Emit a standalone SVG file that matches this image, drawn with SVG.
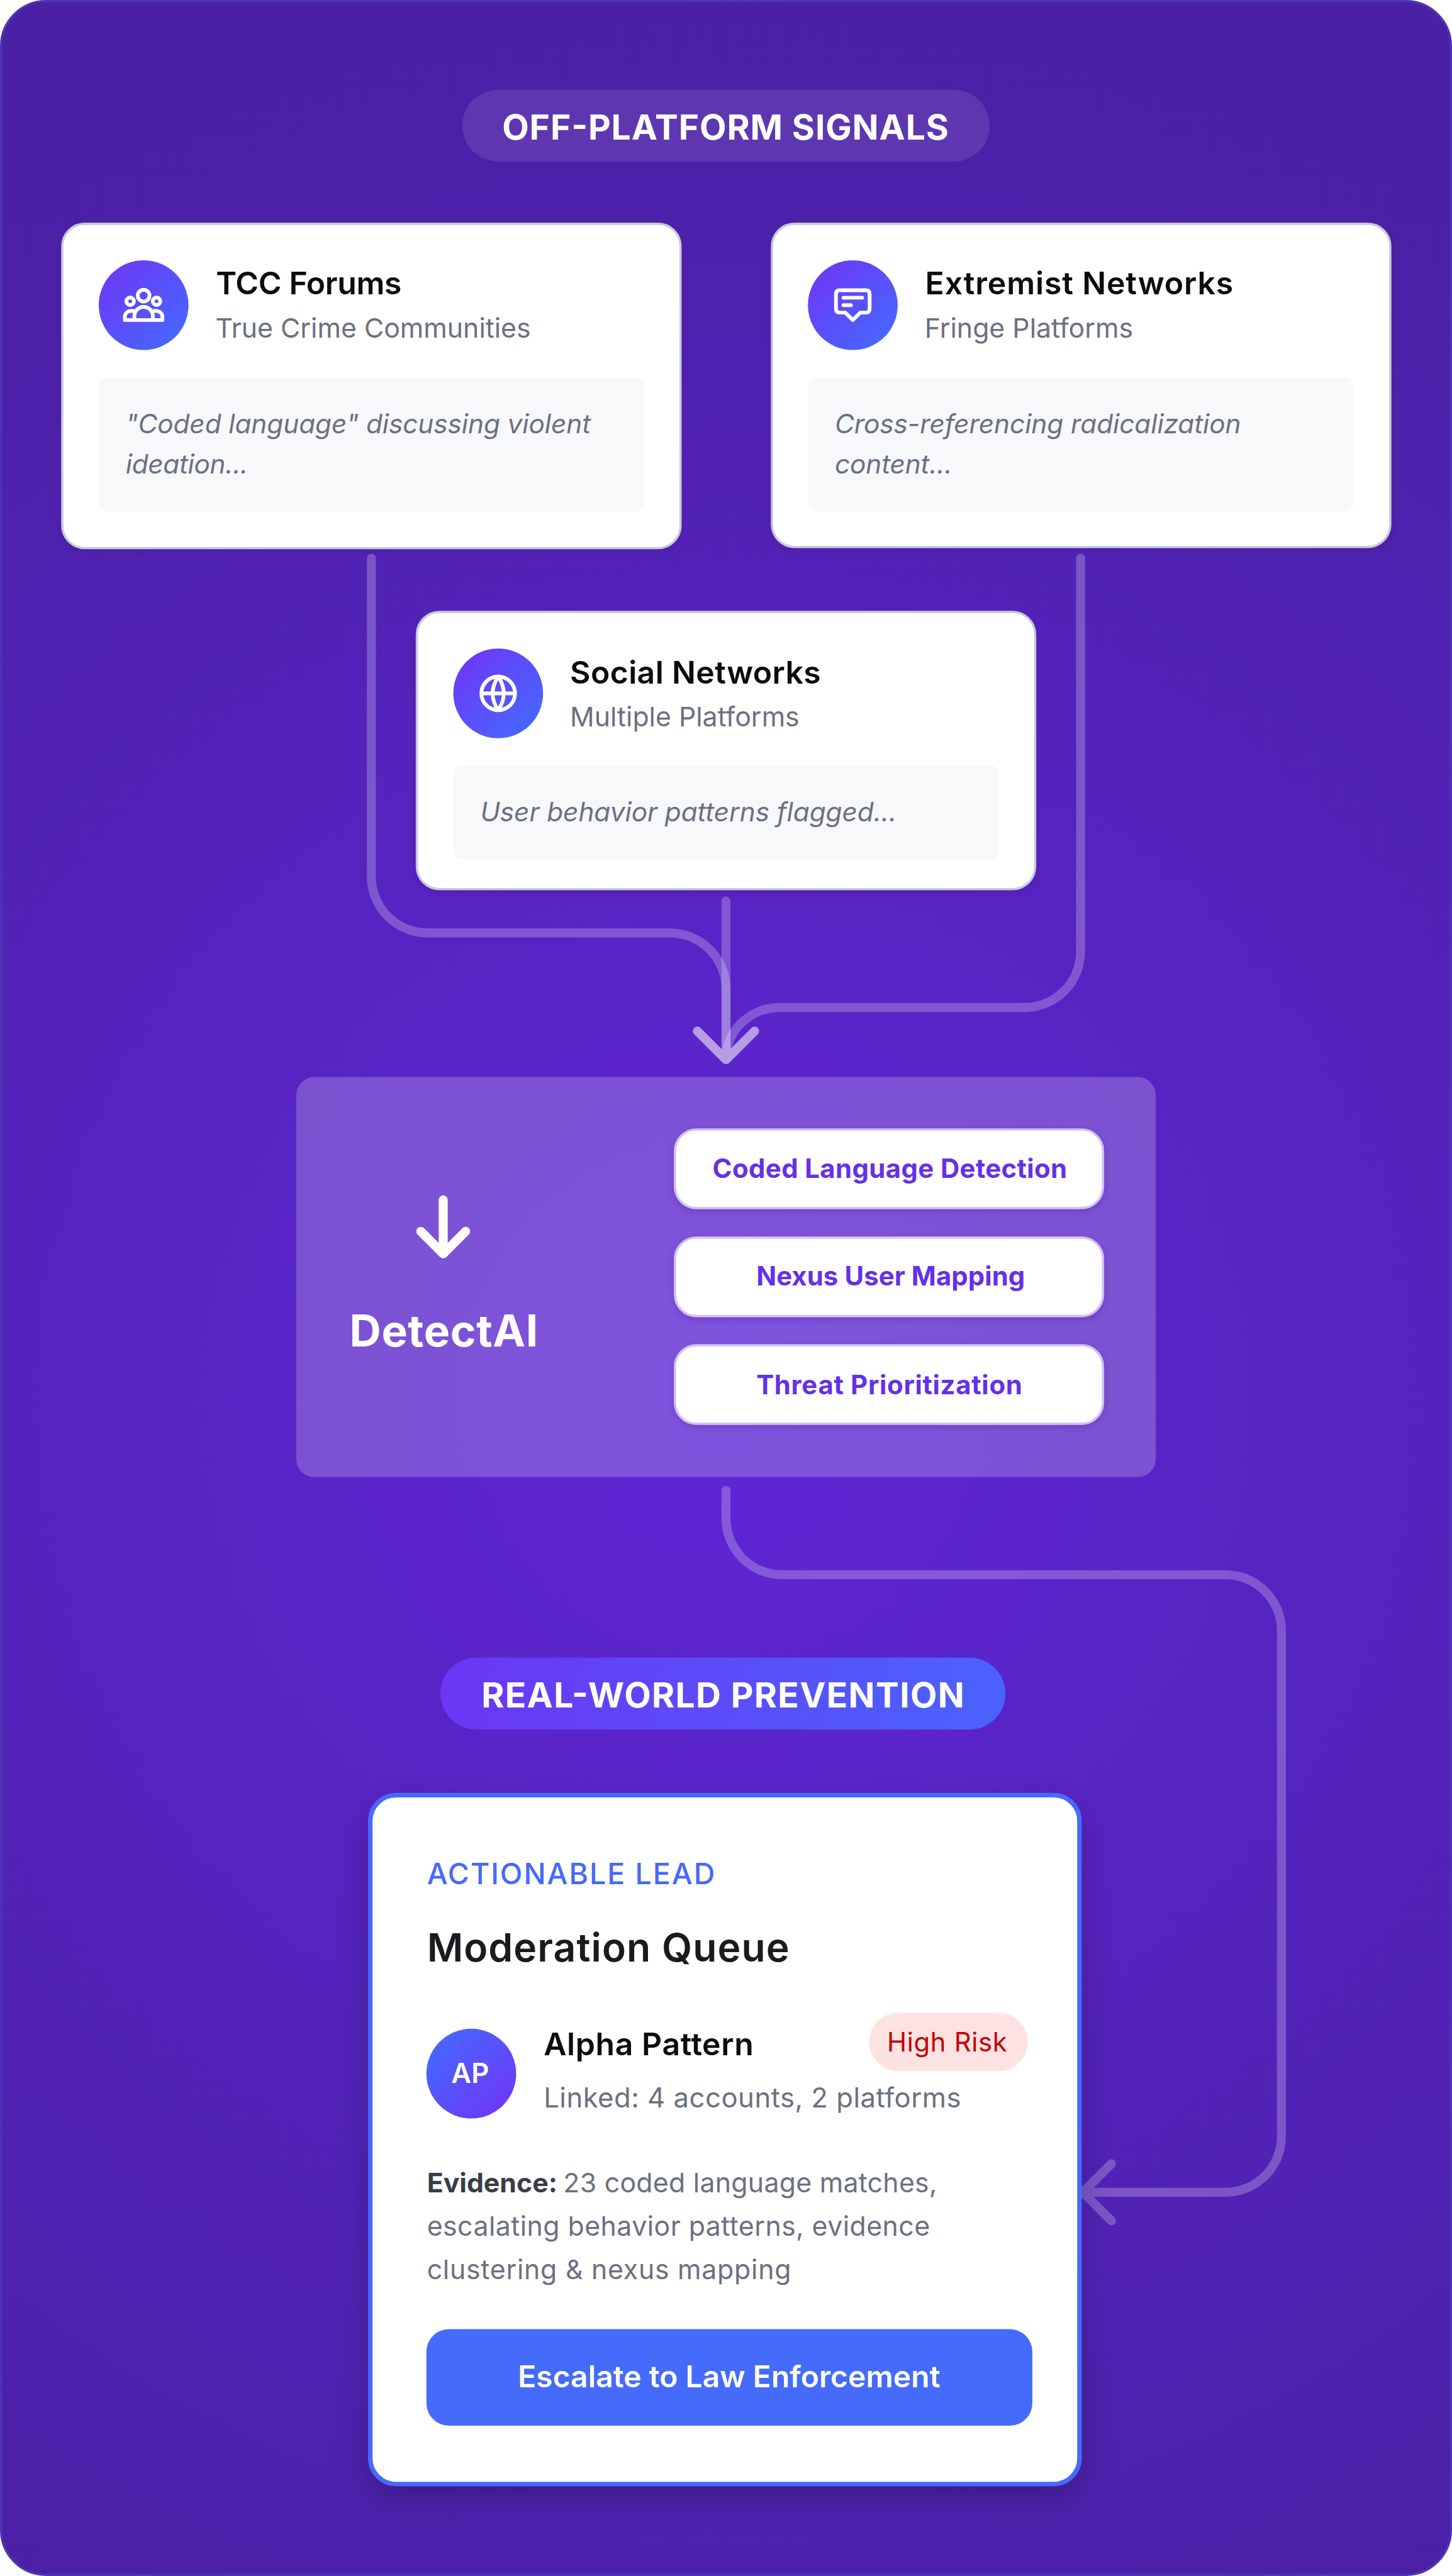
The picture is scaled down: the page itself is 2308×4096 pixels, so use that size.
<svg xmlns="http://www.w3.org/2000/svg" width="2308" height="4096" viewBox="0 0 2308 4096">
<defs>
<radialGradient id="bgG" gradientUnits="userSpaceOnUse" cx="1294" cy="2500" r="2500">
<stop offset="0" stop-color="#5f26d6"/><stop offset="1" stop-color="#4a20a4"/>
</radialGradient>
<linearGradient id="iconG" x1="0.1" y1="0.1" x2="0.9" y2="0.9"><stop offset="0" stop-color="#6e38f5"/><stop offset="1" stop-color="#4568ff"/></linearGradient>
<linearGradient id="avG" x1="0.1" y1="0.1" x2="0.9" y2="0.9"><stop offset="0" stop-color="#4568ff"/><stop offset="1" stop-color="#6e38f5"/></linearGradient>
<linearGradient id="pillG" gradientUnits="userSpaceOnUse" x1="785" y1="2954" x2="1792" y2="3083"><stop offset="0" stop-color="#6b36f5"/><stop offset="1" stop-color="#4a63fd"/></linearGradient>
<filter id="cardSh" x="-10%" y="-10%" width="120%" height="125%"><feDropShadow dx="0" dy="6" stdDeviation="8" flood-color="#000" flood-opacity=".08"/></filter>
<filter id="leadSh" x="-15%" y="-10%" width="130%" height="120%"><feDropShadow dx="0" dy="24" stdDeviation="30" flood-color="#000" flood-opacity=".22"/></filter>
<filter id="tagSh" x="-10%" y="-20%" width="120%" height="150%"><feDropShadow dx="0" dy="4" stdDeviation="6" flood-color="#3b1090" flood-opacity=".25"/></filter>
</defs>
<style>
text{font-family:"Inter","Liberation Sans",sans-serif}
.card{fill:#fff;stroke:#c9c9da;stroke-width:4}
.note{fill:#f7f8fa}
.title{font-size:56px;font-weight:600;fill:#0c0c0e}
.sub{font-size:48px;font-weight:400;fill:#6b7080}
.nt{font-size:47.5px;font-style:italic;font-weight:400;fill:#6b7080}
.ic{fill:none;stroke:#fff;stroke-width:6.67;stroke-linecap:round;stroke-linejoin:round}
.conn{fill:none;stroke:#fff;stroke-opacity:.24;stroke-width:16;stroke-linecap:round;stroke-linejoin:round}
.tag{fill:#fff;stroke:#d3bff3;stroke-width:4}
.tagt{font-size:47px;font-weight:700;fill:#6530e8}
.hdr{font-size:62px;font-weight:700;fill:#fff}
.ev{font-size:48px;fill:#6b7080;font-weight:400}
</style>
<g transform="scale(0.891808 0.891986)">
<rect id="background" x="2" y="2" width="2584" height="4588" rx="80" fill="url(#bgG)" stroke="#4e34b4" stroke-width="4"/>
<g id="connectors">
<path class="conn" d="M662 995V1563A100 100 0 0 0 762 1663H1194A100 100 0 0 1 1294 1763V1889M1243 1838L1294 1889L1345 1838"/>
<path class="conn" d="M1294 1606V1889M1243 1838L1294 1889L1345 1838"/>
<path class="conn" d="M1926 995V1696A100 100 0 0 1 1826 1796H1390C1336 1796 1294 1838 1294 1889M1243 1838L1294 1889L1345 1838"/>
<path class="conn" d="M1294 2657V2707A100 100 0 0 0 1394 2807H2184A100 100 0 0 1 2284 2907V3808A100 100 0 0 1 2184 3908H1930M1981 3857L1930 3908L1981 3959"/>
</g>
<g id="header-off-platform">
<rect x="824" y="160" width="940" height="128" rx="64" fill="#fff" fill-opacity=".1"/>
<text class="hdr" x="895" y="249" textLength="796">OFF-PLATFORM SIGNALS</text>
</g>
<g id="node-tcc">
<rect class="card" x="111" y="399" width="1102" height="578" rx="40" filter="url(#cardSh)"/>
<circle cx="256" cy="544" r="80" fill="url(#iconG)"/>
<g class="ic"><circle cx="256" cy="527" r="10.5"/><circle cx="232" cy="537" r="6.7"/><circle cx="279" cy="537" r="6.7"/><path d="M222.5 570.5H289.5M222.5 570.5V565C222.5 558 228 554 235 554C238 554 240 555 241.5 556M289.5 570.5V565C289.5 558 284 554 277 554C274 554 272 555 270.5 556M239.5 570.5V563.5A16.5 16.5 0 0 1 272.5 563.5V570.5"/></g>
<text class="title" x="385" y="525" textLength="331">TCC Forums</text>
<text class="sub" x="384" y="602">True Crime Communities</text>
<rect class="note" x="176" y="672" width="972" height="240" rx="16"/>
<text class="nt" x="224" y="773" textLength="829">"Coded language" discussing violent</text>
<text class="nt" x="224" y="844" textLength="218">ideation...</text>
</g>
<g id="node-extremist">
<rect class="card" x="1376" y="399" width="1102" height="576" rx="40" filter="url(#cardSh)"/>
<circle cx="1520" cy="544" r="80" fill="url(#iconG)"/>
<g class="ic"><path d="M1497 517.3H1543Q1550 517.3 1550 524.3V550.3Q1550 557.3 1543 557.3H1533.3L1520 570.6L1506.7 557.3H1497Q1490 557.3 1490 550.3V524.3Q1490 517.3 1497 517.3Z"/><path d="M1503.3 530.7H1536.7M1503.3 544H1516.7"/></g>
<text class="title" x="1649" y="525" textLength="549">Extremist Networks</text>
<text class="sub" x="1648" y="602">Fringe Platforms</text>
<rect class="note" x="1440" y="672" width="972" height="240" rx="16"/>
<text class="nt" x="1488" y="773" textLength="724">Cross-referencing radicalization</text>
<text class="nt" x="1488" y="844" textLength="209">content...</text>
</g>
<g id="node-social">
<rect class="card" x="743" y="1091" width="1102" height="494" rx="40" filter="url(#cardSh)"/>
<circle cx="888" cy="1236" r="80" fill="url(#iconG)"/>
<g class="ic"><circle cx="888" cy="1236" r="30"/><path d="M888 1206Q868 1236 888 1266Q908 1236 888 1206Z"/><path d="M858 1236H918"/></g>
<text class="title" x="1016" y="1219" textLength="447">Social Networks</text>
<text class="sub" x="1016" y="1295">Multiple Platforms</text>
<rect class="note" x="808" y="1364" width="972" height="168" rx="16"/>
<text class="nt" x="856" y="1464" textLength="742">User behavior patterns flagged...</text>
</g>
<g id="node-detectai">
<rect x="528" y="1920" width="1532" height="713" rx="32" fill="#fff" fill-opacity=".21"/>
<path d="M790 2139V2235M750 2195L790 2235L830 2195" fill="none" stroke="#fff" stroke-width="16" stroke-linecap="round" stroke-linejoin="round"/>
<text x="623" y="2400" font-size="78" font-weight="700" fill="#fff" textLength="336">DetectAI</text>
<g id="tag-coded"><rect class="tag" x="1203" y="2013.5" width="763" height="140" rx="38" filter="url(#tagSh)"/><text class="tagt" x="1270" y="2100" textLength="632">Coded Language Detection</text></g>
<g id="tag-nexus"><rect class="tag" x="1203" y="2206" width="763" height="140" rx="38" filter="url(#tagSh)"/><text class="tagt" x="1348" y="2292" textLength="479">Nexus User Mapping</text></g>
<g id="tag-threat"><rect class="tag" x="1203" y="2398" width="763" height="140" rx="38" filter="url(#tagSh)"/><text class="tagt" x="1348" y="2485" textLength="474">Threat Prioritization</text></g>
</g>
<g id="header-prevention">
<rect x="785" y="2955" width="1007" height="128" rx="64" fill="url(#pillG)"/>
<text class="hdr" x="858" y="3044" textLength="861">REAL-WORLD PREVENTION</text>
</g>
<g id="node-lead">
<rect x="660" y="3200" width="1264" height="1228" rx="46" fill="#fff" stroke="#4669fb" stroke-width="8" filter="url(#leadSh)"/>
<text x="761" y="3359" font-size="52" font-weight="500" fill="#4669fb" textLength="513">ACTIONABLE LEAD</text>
<text x="761" y="3497" font-size="70" font-weight="600" fill="#1a1a1f" textLength="646">Moderation Queue</text>
<circle cx="840" cy="3696.5" r="80" fill="url(#avG)"/>
<text x="838" y="3713" font-size="49" font-weight="600" fill="#fff" text-anchor="middle">AP</text>
<text x="969" y="3664" font-size="56" font-weight="600" fill="#0c0c0e" textLength="374">Alpha Pattern</text>
<text x="969" y="3757" font-size="49" fill="#6b7080" textLength="744">Linked: 4 accounts, 2 platforms</text>
<rect x="1549" y="3588" width="283" height="104" rx="52" fill="#fee2e2"/>
<text x="1581" y="3657" font-size="47" fill="#c40000" textLength="214">High Risk</text>
<text class="ev" x="761" y="3908"><tspan font-weight="700" fill="#3a3d48" letter-spacing="0">Evidence:</tspan><tspan x="1004" letter-spacing=".3">23 coded language matches,</tspan></text>
<text class="ev" x="761" y="3985" textLength="896.5">escalating behavior patterns, evidence</text>
<text class="ev" x="761" y="4063" textLength="649">clustering &amp; nexus mapping</text>
<rect x="760" y="4152" width="1080" height="172" rx="40" fill="#456bfb"/>
<text x="923" y="4256" font-size="54" font-weight="600" fill="#fff" textLength="753">Escalate to Law Enforcement</text>
</g>
</g>
</svg>
